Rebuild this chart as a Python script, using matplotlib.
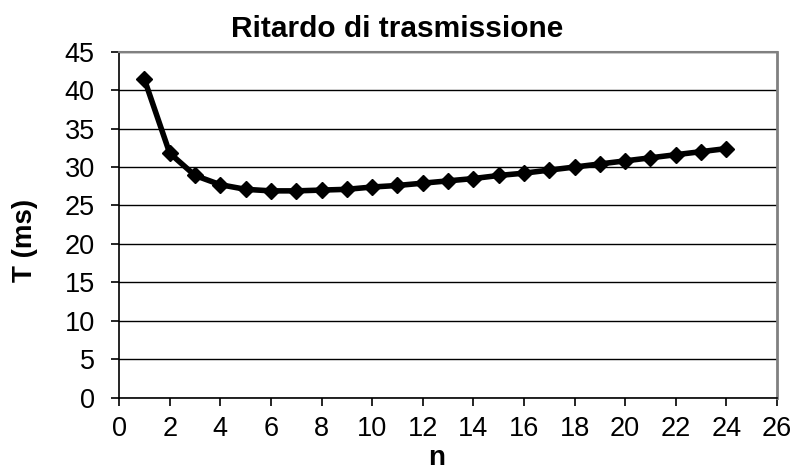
import matplotlib
matplotlib.use("Agg")
import matplotlib.pyplot as plt

plt.rcParams['font.family'] = ['Liberation Sans', 'DejaVu Sans']

n_values = list(range(1, 25))
t_values = [41.4, 31.8, 28.9, 27.7, 27.1, 26.9, 26.9, 27.0, 27.1, 27.4, 27.6, 27.9, 28.2, 28.5,
            28.9, 29.2, 29.6, 30.0, 30.4, 30.8, 31.2, 31.6, 32.0, 32.4]
x_ticks = list(range(0, 27, 2))
y_ticks = list(range(0, 46, 5))

fig = plt.figure(figsize=(7.94, 4.72), dpi=100)
ax = fig.add_axes([0.150, 0.1574, 0.8286, 0.7331])

ax.plot(n_values, t_values, color='black', linewidth=4, marker='D', markersize=8.5,
        markerfacecolor='black', markeredgecolor='black', zorder=3, clip_on=False)

ax.set_xlim(0, 26)
ax.set_ylim(0, 45)
ax.set_xticks(x_ticks)
ax.set_yticks(y_ticks)
ax.yaxis.grid(True, color='black', linewidth=1.0)
ax.set_axisbelow(True)

ax.spines['left'].set_color('black')
ax.spines['bottom'].set_color('black')
ax.spines['left'].set_linewidth(1.2)
ax.spines['bottom'].set_linewidth(1.2)
ax.spines['top'].set_color('#808080')
ax.spines['right'].set_color('#808080')
ax.spines['right'].set_linewidth(2)
ax.spines['top'].set_linewidth(1.5)

ax.tick_params(axis='both', direction='out', length=6, width=1.2, labelsize=19.5)
ax.tick_params(axis='y', pad=11.5)
ax.tick_params(axis='x', pad=7)

fig.text(0.5, 1 - 37 / 472, 'Ritardo di trasmissione', fontsize=21.5, fontweight='bold',
         ha='center', va='baseline')
fig.text(437 / 794, 1 / 472, 'n', fontsize=20, fontweight='bold', ha='center', va='bottom')
fig.text(25 / 794, 1 - 240 / 472, 'T (ms)', fontsize=20, fontweight='bold',
         ha='center', va='center', rotation=90)

fig.savefig('out.png', dpi=100)
